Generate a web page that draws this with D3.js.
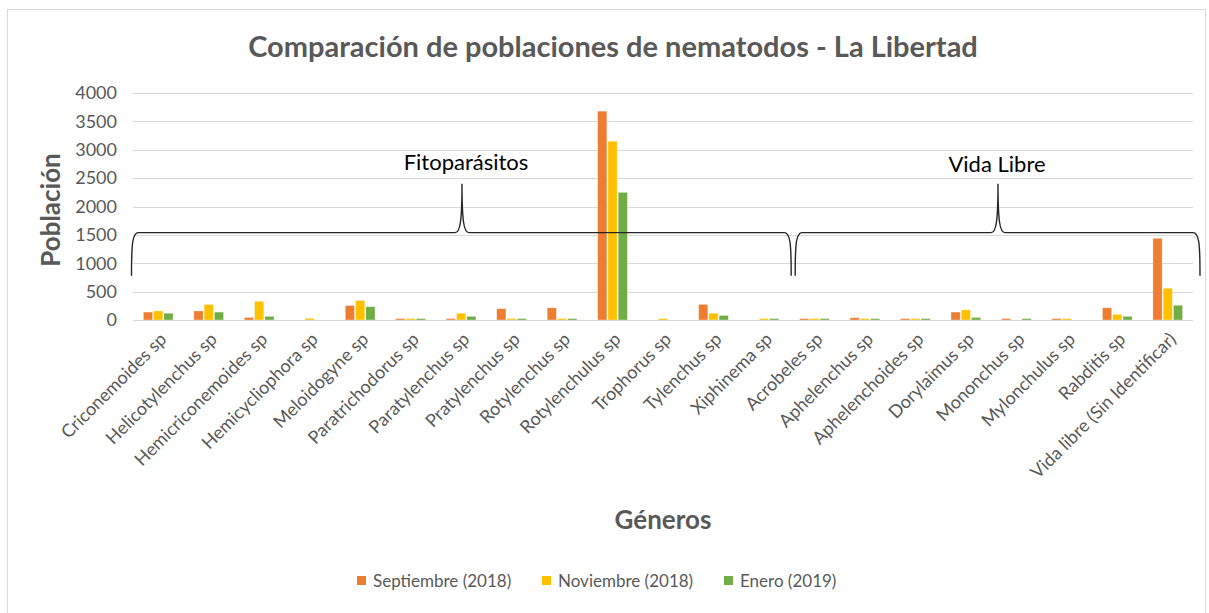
<!DOCTYPE html>
<html>
<head>
<meta charset="utf-8">
<script src="https://cdn.jsdelivr.net/npm/d3@7"></script>
<style>
  body { margin: 0; background: #fff; }
  text { font-family: Lato, "Open Sans", sans-serif; }
</style>
</head>
<body>
<div class="chart"></div>
<script>
// categories (géneros) and the three sampling dates
var generos = ["Criconemoides sp", "Helicotylenchus sp", "Hemicriconemoides sp", "Hemicycliophora sp",
  "Meloidogyne sp", "Paratrichodorus sp", "Paratylenchus sp", "Pratylenchus sp", "Rotylenchus sp",
  "Rotylenchulus sp", "Trophorus sp", "Tylenchus sp", "Xiphinema sp", "Acrobeles sp", "Aphelenchus sp",
  "Aphelenchoides sp", "Dorylaimus sp", "Mononchus sp", "Mylonchulus sp", "Rabditis sp",
  "Vida libre (Sin Identificar)"];

var series = ["Septiembre (2018)", "Noviembre (2018)", "Enero (2019)"];

var septiembre = [140, 160, 45, 0, 255, 25, 25, 200, 215, 3680, 0, 275, 0, 25, 40, 25, 140, 25, 25, 215, 1440];
var noviembre  = [160, 275, 330, 30, 345, 25, 120, 25, 25, 3150, 25, 120, 25, 25, 25, 25, 180, 0, 25, 100, 560];
var enero      = [120, 140, 65, 0, 235, 25, 65, 25, 25, 2250, 0, 80, 25, 25, 25, 25, 45, 25, 0, 65, 260];

var yTicks = [0, 500, 1000, 1500, 2000, 2500, 3000, 3500, 4000];

var colors = ["#ED7D31", "#FFC000", "#70AD47"];

var svgWidth = 1209, svgHeight = 613;
var margin = { top: 93, left: 133, right: 16, bottom: 293 };
var width = svgWidth - margin.left - margin.right;
var height = svgHeight - margin.top - margin.bottom;

var svg = d3.select(".chart").append("svg")
  .attr("width", svgWidth)
  .attr("height", svgHeight);

// chart frame
svg.append("rect")
  .attr("x", 7.5).attr("y", 9.5)
  .attr("width", 1198).attr("height", 610)
  .attr("fill", "none")
  .attr("stroke", "#d9d9d9");

var chartGroup = svg.append("g")
  .attr("transform", `translate(${margin.left}, ${margin.top})`);

var data = generos.map(function (g, i) {
  return { genero: g, values: [septiembre[i], noviembre[i], enero[i]] };
});

// scales
var x0 = d3.scaleBand().domain(generos).range([0, width]).paddingInner(0.37).paddingOuter(0.185);
var x1 = d3.scaleBand().domain(series).range([0, x0.bandwidth()]).padding(0.1);
var y = d3.scaleLinear().domain([0, 4000]).range([height, 0]);

// gridlines
chartGroup.append("g")
  .selectAll("line")
  .data(yTicks)
  .enter()
  .append("line")
  .attr("x1", 0).attr("x2", width)
  .attr("y1", d => Math.round(y(d)) + 0.5)
  .attr("y2", d => Math.round(y(d)) + 0.5)
  .attr("stroke", "#d9d9d9")
  .attr("stroke-width", 1);

// y axis labels
var yAxis = d3.axisLeft(y).tickValues(yTicks).tickFormat(d3.format("d")).tickSize(0).tickPadding(16);
var yg = chartGroup.append("g").call(yAxis);
yg.select(".domain").remove();
yg.selectAll("text")
  .attr("fill", "#595959")
  .style("font-size", "18px");

// bars
var groups = chartGroup.selectAll(".grupo")
  .data(data)
  .enter()
  .append("g")
  .attr("class", "grupo")
  .attr("transform", d => `translate(${x0(d.genero)},0)`);

groups.selectAll("rect")
  .data(d => d.values.map((v, i) => ({ serie: series[i], value: v, color: colors[i] })))
  .enter()
  .append("rect")
  .filter(d => d.value > 0)
  .attr("x", d => x1(d.serie))
  .attr("y", d => y(d.value))
  .attr("width", x1.bandwidth())
  .attr("height", d => height - y(d.value))
  .attr("fill", d => d.color)
  .attr("stroke", "#fff")
  .attr("stroke-opacity", 0.5)
  .attr("stroke-width", 0.7);

// x axis line
chartGroup.append("line")
  .attr("x1", 0).attr("x2", width)
  .attr("y1", height + 0.5).attr("y2", height + 0.5)
  .attr("stroke", "#d9d9d9");

// x axis labels, rotated
chartGroup.append("g")
  .selectAll("text")
  .data(generos)
  .enter()
  .append("text")
  .attr("transform", d => `translate(${x0(d) + x0.bandwidth() / 2 + 5}, ${height + 16}) rotate(-45)`)
  .attr("text-anchor", "end")
  .attr("dy", "0.35em")
  .attr("fill", "#595959")
  .style("font-size", "18px")
  .text(d => d);

// braces grouping the genera
function brace(xa, xb, xp, yFlat, yEnd, yPeak) {
  var c = 7;
  return `M${xa},${yEnd} C${xa},${yFlat + 10} ${xa + 1},${yFlat} ${xa + c},${yFlat}`
    + ` L${xp - 7},${yFlat} C${xp - 2},${yFlat} ${xp},${yFlat - 10} ${xp},${yPeak}`
    + ` C${xp},${yFlat - 10} ${xp + 2},${yFlat} ${xp + 7},${yFlat}`
    + ` L${xb - c},${yFlat} C${xb - 1},${yFlat} ${xb},${yFlat + 10} ${xb},${yEnd}`;
}

var yFlat = y(1540), yEnd = y(780), yPeak = y(2400);
var split = x0(generos[13]) - x0.step() * x0.paddingInner() / 2;

chartGroup.append("path")
  .attr("d", brace(-1.5, split + 2, 329, yFlat, yEnd, yPeak))
  .attr("fill", "none").attr("stroke", "#262626").attr("stroke-width", 1.4);

chartGroup.append("path")
  .attr("d", brace(split + 6, width + 7, 865, yFlat, yEnd, yPeak))
  .attr("fill", "none").attr("stroke", "#262626").attr("stroke-width", 1.4);

chartGroup.append("text")
  .attr("x", 333).attr("y", y(2640))
  .attr("text-anchor", "middle")
  .attr("fill", "#000")
  .style("font-size", "22px")
  .text("Fitoparásitos");

chartGroup.append("text")
  .attr("x", 864).attr("y", y(2600))
  .attr("text-anchor", "middle")
  .attr("fill", "#000")
  .style("font-size", "22px")
  .text("Vida Libre");

// title
svg.append("text")
  .attr("x", 613).attr("y", 57)
  .attr("text-anchor", "middle")
  .attr("fill", "#595959")
  .style("font-size", "29px")
  .style("font-weight", "bold")
  .text("Comparación de poblaciones de nematodos - La Libertad");

// axis titles
svg.append("text")
  .attr("transform", "translate(60, 210) rotate(-90)")
  .attr("text-anchor", "middle")
  .attr("fill", "#595959")
  .style("font-size", "26px")
  .style("font-weight", "bold")
  .text("Población");

svg.append("text")
  .attr("x", 663).attr("y", 529)
  .attr("text-anchor", "middle")
  .attr("fill", "#595959")
  .style("font-size", "26px")
  .style("font-weight", "bold")
  .text("Géneros");

// legend
var legendX = [357, 542, 724];
var legend = svg.selectAll(".legend")
  .data(series)
  .enter()
  .append("g")
  .attr("class", "legend")
  .attr("transform", (d, i) => `translate(${legendX[i]}, 581)`);

legend.append("rect")
  .attr("x", 0).attr("y", -5)
  .attr("width", 9).attr("height", 9)
  .attr("fill", (d, i) => colors[i]);

legend.append("text")
  .attr("x", 16).attr("y", 0)
  .attr("dy", "0.35em")
  .attr("fill", "#595959")
  .style("font-size", "17px")
  .text(d => d);
</script>
</body>
</html>
